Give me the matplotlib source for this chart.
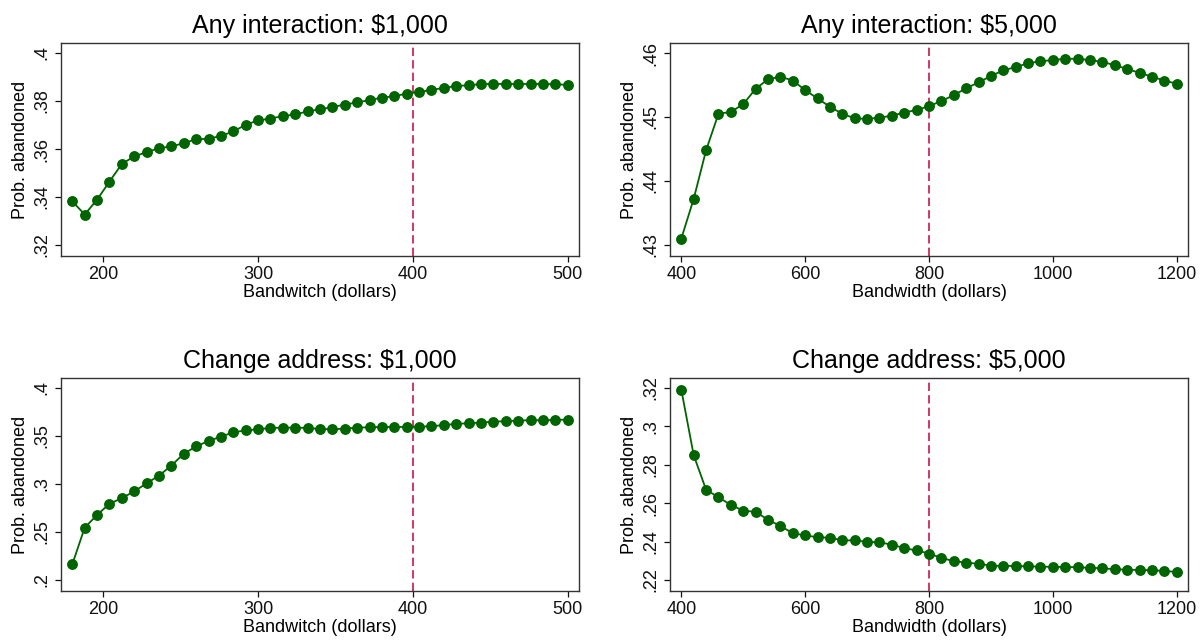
import numpy as np
import matplotlib
matplotlib.use("Agg")
import matplotlib.pyplot as plt

plt.rcParams["font.family"] = ["Liberation Sans", "DejaVu Sans"]

# bandwidths
bw_1000 = np.arange(180, 501, 8)
bw_5000 = np.arange(400, 1201, 20)

# probability abandoned
any_1000 = [0.3382, 0.3327, 0.3389, 0.3464, 0.3538, 0.3569, 0.3587, 0.3603, 0.3611, 0.3624,
            0.3641, 0.3642, 0.3655, 0.3673, 0.3701, 0.3719, 0.3727, 0.3737, 0.3744, 0.3757,
            0.3765, 0.3775, 0.3785, 0.3794, 0.3804, 0.3814, 0.3820, 0.3831, 0.3838, 0.3846,
            0.3855, 0.3862, 0.3866, 0.3870, 0.3871, 0.3871, 0.3871, 0.3871, 0.3871, 0.3870,
            0.3867]
any_5000 = [0.4310, 0.4372, 0.4448, 0.4505, 0.4508, 0.4520, 0.4544, 0.4559, 0.4563, 0.4557,
            0.4542, 0.4529, 0.4516, 0.4505, 0.4498, 0.4497, 0.4499, 0.4502, 0.4507, 0.4511,
            0.4517, 0.4525, 0.4534, 0.4545, 0.4554, 0.4564, 0.4573, 0.4578, 0.4584, 0.4587,
            0.4589, 0.4591, 0.4591, 0.4589, 0.4586, 0.4581, 0.4575, 0.4569, 0.4563, 0.4557,
            0.4552]
addr_1000 = [0.2164, 0.2545, 0.2678, 0.2794, 0.2853, 0.2923, 0.3007, 0.3087, 0.3192, 0.3315,
             0.3392, 0.3448, 0.3493, 0.3538, 0.3559, 0.3570, 0.3584, 0.3587, 0.3587, 0.3584,
             0.3573, 0.3570, 0.3577, 0.3587, 0.3591, 0.3594, 0.3594, 0.3594, 0.3598, 0.3601,
             0.3615, 0.3626, 0.3633, 0.3640, 0.3650, 0.3654, 0.3661, 0.3664, 0.3664, 0.3668,
             0.3671]
addr_5000 = [0.3191, 0.2850, 0.2670, 0.2631, 0.2591, 0.2561, 0.2555, 0.2514, 0.2481, 0.2444,
             0.2432, 0.2423, 0.2420, 0.2407, 0.2406, 0.2399, 0.2396, 0.2384, 0.2366, 0.2354,
             0.2338, 0.2315, 0.2298, 0.2291, 0.2284, 0.2275, 0.2273, 0.2273, 0.2271, 0.2270,
             0.2268, 0.2268, 0.2266, 0.2264, 0.2261, 0.2256, 0.2254, 0.2252, 0.2251, 0.2247,
             0.2242]

titles = ["Any interaction: $1,000", "Any interaction: $5,000",
          "Change address: $1,000", "Change address: $5,000"]
xlabels = ["Bandwitch (dollars)", "Bandwidth (dollars)",
           "Bandwitch (dollars)", "Bandwidth (dollars)"]
xticks_1000 = [200, 300, 400, 500]
xticks_5000 = [400, 600, 800, 1000, 1200]
yticks = [[0.32, 0.34, 0.36, 0.38, 0.4],
          [0.43, 0.44, 0.45, 0.46],
          [0.2, 0.25, 0.3, 0.35, 0.4],
          [0.22, 0.24, 0.26, 0.28, 0.3, 0.32]]
cutoffs = [400, 800, 400, 800]

panels = [(bw_1000, any_1000, xticks_1000), (bw_5000, any_5000, xticks_5000),
          (bw_1000, addr_1000, xticks_1000), (bw_5000, addr_5000, xticks_5000)]

fig = plt.figure(figsize=(12.03, 6.41), dpi=100)
W, H = 1203, 641
boxes = [(61, 43), (670, 43), (61, 378), (670, 378)]
aw, ah = 518, 213

green = "#006400"

for i, (x, y, xt) in enumerate(panels):
    left, top = boxes[i]
    ax = fig.add_axes([left / W, 1 - (top + ah) / H, aw / W, ah / H])
    ax.plot(x, y, color=green, lw=1.3, marker="o", ms=6.8, zorder=3)
    ax.axvline(cutoffs[i], color="#C8174A", lw=1.2, ls=(0, (5, 2.5)), zorder=2)

    # stata-like padding around the data/tick range
    x0, x1 = x[0], x[-1]
    xp = (x1 - x0) * 11.3 / 495
    ax.set_xlim(x0 - xp, x1 + xp)
    yt = yticks[i]
    span = yt[-1] - yt[0]
    ax.set_ylim(yt[0] - span * 11 / 192, yt[-1] + span * 10 / 192)

    ax.set_xticks(xt)
    ax.set_yticks(yt)
    ax.set_yticklabels([("%g" % v).lstrip("0") for v in yt], rotation=90, va="center")
    ax.tick_params(direction="out", length=4, width=0.9, labelsize=13, colors="#111111")
    ax.tick_params(axis="y", pad=4)
    ax.tick_params(axis="x", pad=3)
    for s in ax.spines.values():
        s.set_linewidth(1.0)
        s.set_color("#333333")

    ax.set_title(titles[i], fontsize=18, pad=7)
    ax.set_xlabel(xlabels[i], fontsize=13, labelpad=1)
    ax.set_ylabel("Prob. abandoned", fontsize=13, labelpad=3)

fig.savefig("out.png", dpi=100)
